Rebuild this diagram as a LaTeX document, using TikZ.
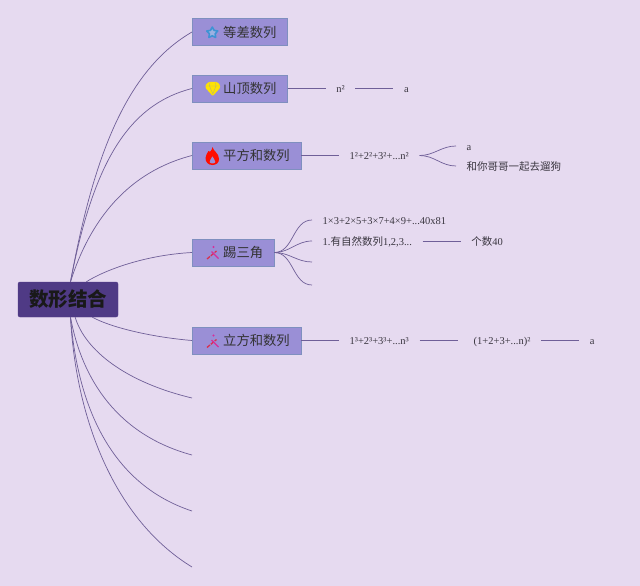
\documentclass[tikz,border=0pt]{standalone}
\usepackage{fontspec}
\setmainfont{Liberation Serif}
\newfontfamily\cjk{Noto Sans CJK SC}
\usepackage{tikz}
\usetikzlibrary{positioning,shapes.geometric}
\definecolor{pagebg}{HTML}{E6DAF0}
\definecolor{rootfill}{HTML}{4F3A85}
\definecolor{boxfill}{HTML}{9A8FD6}
\definecolor{boxline}{HTML}{7F8FBF}
\definecolor{wire}{HTML}{6F5F98}
\definecolor{leafink}{HTML}{3A3640}
\definecolor{starblue}{HTML}{3E93D4}
\definecolor{stickred}{HTML}{D8304F}
\definecolor{stickpink}{HTML}{D62E9A}

\begin{document}
\begin{tikzpicture}[%
    x=1pt, y=-1pt,
    node distance=38pt,
    rootnode/.style={draw=rootfill, fill=rootfill, rounded corners=2pt, minimum width=100pt,
        minimum height=35pt, inner sep=0pt, font=\cjk\fontsize{19.5}{20}\selectfont\bfseries, text=black!90},
    topicbox/.style={draw=boxline, fill=boxfill, anchor=west, minimum height=27pt, inner ysep=0pt,
        inner xsep=11pt, font=\cjk\fontsize{13.3}{14}\selectfont, text=black!80},
    leaf/.style={inner xsep=10.5pt, inner ysep=0pt, text height=8pt, text depth=0pt,
        font=\fontsize{10.5}{12}\selectfont, text=leafink},
    wired/.style={draw=wire, line width=0.7pt},
    iconspot/.style={inner sep=0pt, minimum size=0pt}
  ]
    \fill[pagebg] (0,0) rectangle (640,586);

    \node[rootnode] (root) at (68,299.5) {\raisebox{-1pt}{数形结合}};

    \node[topicbox] (dengcha) at (192,32) {\hspace*{20pt}等差数列};
    \node[topicbox] (shanding) at (192,88.5) {\hspace*{20pt}山顶数列};
    \node[topicbox] (pingfang) at (192,155.5) {\hspace*{20pt}平方和数列};
    \node[topicbox] (tisanjiao) at (192,252.5) {\hspace*{20pt}踢三角};
    \node[topicbox] (lifang) at (192,340.5) {\hspace*{20pt}立方和数列};

    % empty branches
    \coordinate (free1) at (192,398);
    \coordinate (free2) at (192,455);
    \coordinate (free3) at (192,511);
    \coordinate (free4) at (192,567);
    \coordinate (free5) at (312,262);
    \coordinate (free6) at (312,285);

    \node[leaf, right=of shanding] (nsq) {n²};
    \node[leaf, right=of nsq] (shanA) {a};

    \node[leaf, right=of pingfang] (sumsq) {1²+2²+3²+...n²};
    \node[leaf, anchor=west] (pingA) at (456,146) {a};
    \node[leaf, anchor=west] (pingdog) at (456,166) {{\cjk 和你哥哥一起去遛狗}};

    \node[leaf, anchor=west] (product) at (312,220) {1×3+2×5+3×7+4×9+...40x81};
    \node[leaf, anchor=west] (natural) at (312,241) {1.{\cjk 有自然数列}1,2,3...};
    \node[leaf, right=of natural] (count) {{\cjk 个数}40};

    \node[leaf, right=of lifang] (sumcube) {1³+2³+3³+...n³};
    \node[leaf, right=of sumcube] (square) {\hspace*{5.5pt}(1+2+3+...n)²};
    \node[leaf, right=of square] (liA) {a};

    % trunk curves
    \draw[wired] (root.82) .. controls (92,165) and (123,72) .. (dengcha.west);
    \draw[wired] (root.82) .. controls (93,165) and (127,105) .. (shanding.west);
    \draw[wired] (root.82) .. controls (90,220) and (128,172) .. (pingfang.west);
    \draw[wired] (root.44) .. controls (105,270) and (145,255) .. (tisanjiao.west);
    \draw[wired] (root.-36) .. controls (110,327) and (150,337) .. (lifang.west);
    \draw[wired] (root.-68) .. controls (85,350) and (125,382) .. (free1);
    \draw[wired] (root.-82) .. controls (82,380) and (118,435) .. (free2);
    \draw[wired] (root.-82) .. controls (78,410) and (113,485) .. (free3);
    \draw[wired] (root.-82) .. controls (76,420) and (115,520) .. (free4);

    \path[wired] (shanding) edge (nsq) (nsq) edge (shanA)
        (pingfang) edge (sumsq)
        (natural) edge (count)
        (lifang) edge (sumcube) (sumcube) edge (square) (square) edge (liA);

    \draw[wired] (sumsq.east) to[out=0,in=180] (pingA.west);
    \draw[wired] (sumsq.east) to[out=0,in=180] (pingdog.west);
    \draw[wired] (tisanjiao.east) to[out=0,in=180] (product.west);
    \draw[wired] (tisanjiao.east) to[out=0,in=180] (natural.west);
    \draw[wired] (tisanjiao.east) to[out=0,in=180] (free5);
    \draw[wired] (tisanjiao.east) to[out=0,in=180] (free6);

    % icons
    \node[iconspot, star, star points=5, star point ratio=1.9, draw=starblue, line width=1.6pt, line join=round,
        fill=boxfill!55!starblue!70!white, minimum size=11.5pt] (iconstar) at (212.3,32.8) {};
    \fill[yellow!85!orange, rounded corners=1pt]
        (205.5,85) -- (208.5,82) -- (217,82) -- (220,85) -- (220,88) -- (212.8,96) -- (205.5,88) -- cycle;
    \draw[yellow!55!black!70, line width=0.4pt]
        (206,86) -- (219.5,86) (209.5,86) -- (212.8,94) -- (216,86) (210,82.5) -- (209.5,86) (215.5,82.5) -- (216,86);
    \fill[red!90!orange, even odd rule]
        (212.5,147) .. controls (213,151) and (219,153) .. (219,159) .. controls (219,163) and (216,165) .. (212.5,165)
        .. controls (208,165) and (205.5,162) .. (205.5,158) .. controls (205.5,155) and (207.5,153) .. (208.5,151)
        .. controls (210,153) and (212,150) .. (212.5,147) -- cycle
        (212.5,156) .. controls (211,159) and (209.5,160) .. (209.5,162) .. controls (209.5,164) and (215.5,164) .. (215.5,162)
        .. controls (215.5,160) and (213.5,159) .. (212.5,156) -- cycle;
    \foreach \cy in {252.5,341}{
      \draw[stickred, line width=1.3pt, dash pattern=on 4pt off 1pt] (207,\cy+6.5) -- (216.5,\cy-1.5);
      \draw[stickpink, line width=1.3pt] (211.5,\cy-1) -- (218.5,\cy+6);
      \fill[stickpink] (213.5,\cy-5.5) circle (1.1pt);
    }
\end{tikzpicture}
\end{document}
